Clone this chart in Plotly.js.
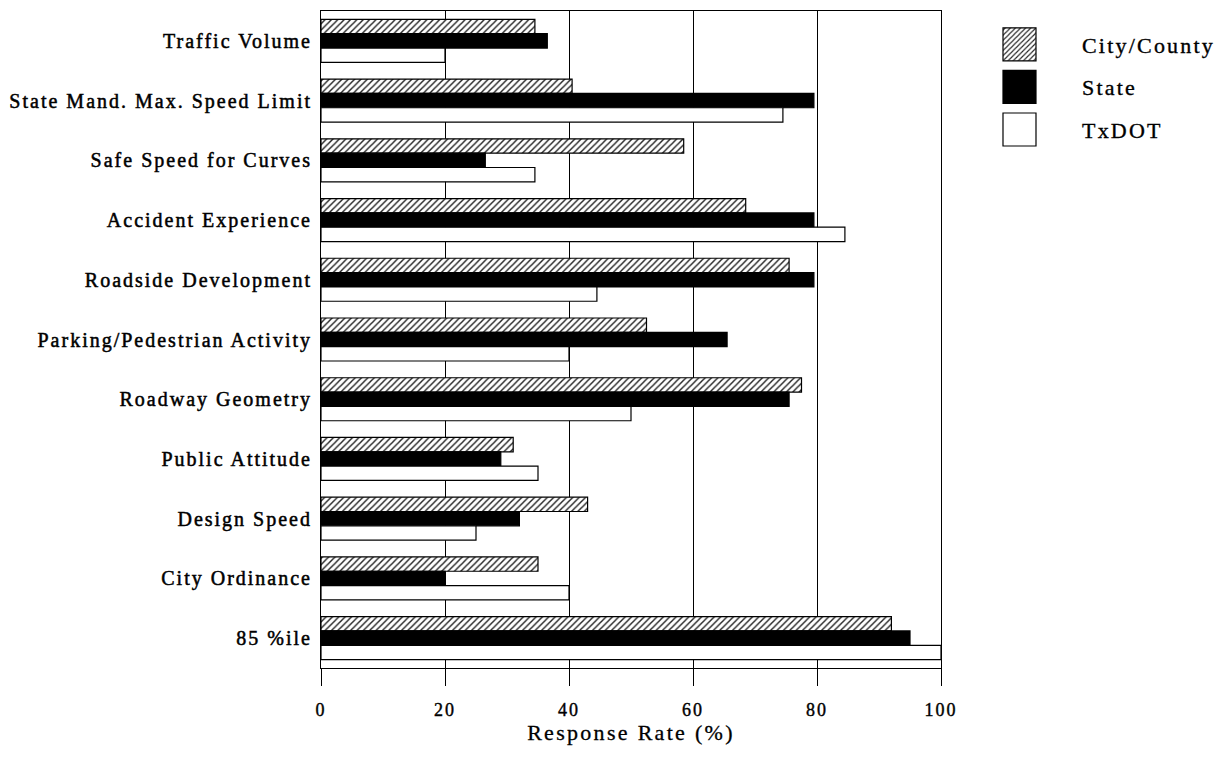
<!DOCTYPE html>
<html>
<head>
<meta charset="utf-8">
<script src="https://cdn.plot.ly/plotly-3.0.1.min.js"></script>
<style>
html,body{margin:0;padding:0;background:#fff;}
#chart{width:1222px;height:757px;}
#chart .ytick text{letter-spacing:2px; stroke:#000; stroke-width:0.5px;}
#chart .xtick text{letter-spacing:2px; stroke:#000; stroke-width:0.4px;}
#chart .g-xtitle text{letter-spacing:2.3px; stroke:#000; stroke-width:0.3px;}
#chart .legendtext{letter-spacing:2.2px; stroke:#000; stroke-width:0.35px;}
</style>
</head>
<body>
<div id="chart"></div>
<script>
const categories = ["Traffic Volume","State Mand. Max. Speed Limit","Safe Speed for Curves","Accident Experience","Roadside Development","Parking/Pedestrian Activity","Roadway Geometry","Public Attitude","Design Speed","City Ordinance","85 %ile"];
const cityCounty = [34.5, 40.5, 58.5, 68.5, 75.5, 52.5, 77.5, 31, 43, 35, 92];
const state      = [36.5, 79.5, 26.5, 79.5, 79.5, 65.5, 75.5, 29, 32, 20, 95];
const txdot      = [20, 74.5, 34.5, 84.5, 44.5, 40, 50, 35, 25, 40, 100];
const xTicks = [0, 20, 40, 60, 80, 100];

const FONT = "Liberation Serif, Times New Roman, serif";
const line = {color: "#000", width: 1.2};

const traces = [
  {type: "bar", orientation: "h", name: "City/County", x: cityCounty, y: categories, legendgroup: "a",
   marker: {color: "#fff", line: line, pattern: {shape: "/", size: 4.5, solidity: 0.32, fgcolor: "#222", bgcolor: "#fff"}}},
  {type: "bar", orientation: "h", name: "State", x: state, y: categories, legendgroup: "b",
   marker: {color: "#000", line: line}},
  {type: "bar", orientation: "h", name: "TxDOT", x: txdot, y: categories, legendgroup: "c",
   marker: {color: "#fff", line: line}}
];

const layout = {
  width: 1222, height: 757,
  margin: {l: 321, r: 281, t: 11, b: 89},
  paper_bgcolor: "#fff", plot_bgcolor: "#fff",
  barmode: "group", bargap: 0.28, bargroupgap: 0,
  font: {family: FONT, color: "#000", size: 18},
  showlegend: true,
  legend: {x: 1.0258, y: 0.981, xanchor: "left", yanchor: "top", traceorder: "grouped", tracegroupgap: 11,
           itemwidth: 115, font: {family: FONT, size: 22, color: "#000"}, bgcolor: "rgba(0,0,0,0)"},
  xaxis: {range: [0, 100], tickvals: xTicks, ticktext: xTicks.map(String), ticks: "outside", ticklen: 17, tickwidth: 1, tickcolor: "#000",
          showgrid: true, gridcolor: "#000", gridwidth: 1, zeroline: false,
          showline: true, linecolor: "#000", linewidth: 1, mirror: true, ticklabelstandoff: 8,
          tickfont: {family: FONT, size: 18}, title: {text: "Response Rate (%)", font: {family: FONT, size: 22}, standoff: 2},
          fixedrange: true},
  yaxis: {type: "category", autorange: "reversed", showgrid: false, showline: true, linecolor: "#000", linewidth: 1, mirror: true,
          ticks: "", ticklabelstandoff: 4, tickfont: {family: FONT, size: 20}, fixedrange: true}
};

Plotly.newPlot("chart", traces, layout, {displayModeBar: false, staticPlot: true}).then(function (gd) {
  // enlarge legend swatches to match the reference's big square keys
  gd.querySelectorAll(".legend .traces .legendpoints path").forEach(function (p) {
    p.setAttribute("d", "M16.5,16.5H-16.5V-16.5H16.5Z");
    p.style.strokeWidth = "1.2px";
  });
  // letter-spaced legend text is wider than Plotly measured; don't clip it
  gd.querySelectorAll(".legend .scrollbox").forEach(function (s) { s.removeAttribute("clip-path"); });
  gd.querySelectorAll(".legend").forEach(function (s) { s.removeAttribute("clip-path"); });
});
</script>
</body>
</html>
